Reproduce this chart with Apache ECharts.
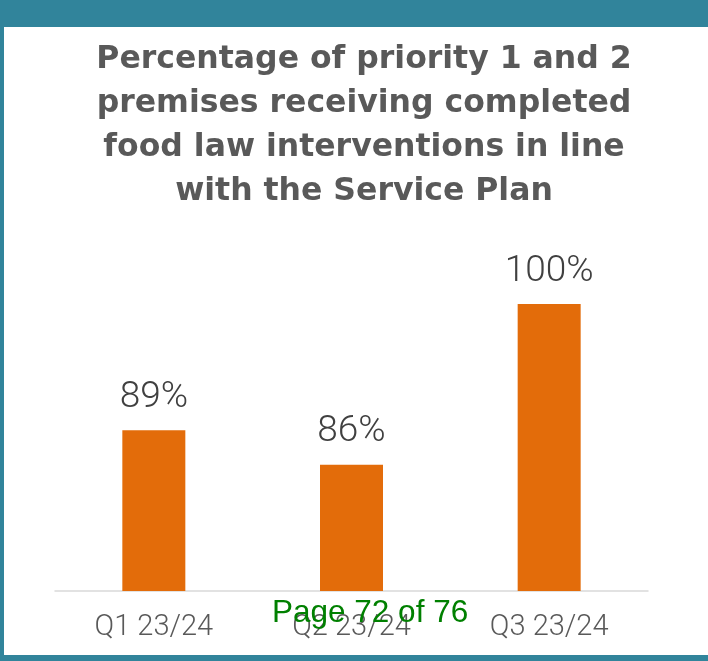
<!DOCTYPE html>
<html>
<head>
<meta charset="utf-8">
<script src="https://cdn.jsdelivr.net/npm/echarts@6/dist/echarts.min.js"></script>
<style>
  html, body { margin: 0; padding: 0; width: 708px; height: 661px; background: #31849B; overflow: hidden; }
  #chart { position: absolute; left: 4px; top: 27px; width: 704px; height: 628px; background: #ffffff; }
</style>
</head>
<body>
<div id="chart"></div>
<script>
const titleLines = [
  'Percentage of priority 1 and 2',
  'premises receiving completed',
  'food law interventions in line',
  'with the Service Plan'
];
const categories = ['Q1 23/24', 'Q2 23/24', 'Q3 23/24'];
const values = [89, 86, 100];
const pageText = 'Page 72 of 76';

const chart = echarts.init(document.getElementById('chart'), null, { renderer: 'canvas' });
chart.setOption({
  backgroundColor: '#ffffff',
  animation: false,
  title: {
    text: titleLines.join('\n'),
    left: 355,
    top: 6,
    textAlign: 'center',
    textStyle: {
      fontFamily: 'DejaVu Sans',
      fontWeight: 'bold',
      fontSize: 31.5,
      lineHeight: 44,
      color: '#595959'
    }
  },
  grid: { left: 51, right: 60, top: 277, bottom: 64, containLabel: false },
  xAxis: {
    type: 'category',
    data: categories,
    axisLine: { show: true, lineStyle: { color: '#D9D9D9', width: 1.5 } },
    axisTick: { show: false },
    axisLabel: {
      margin: 22,
      fontFamily: 'Roboto',
      fontWeight: 300,
      fontSize: 29,
      color: '#595959'
    }
  },
  yAxis: {
    type: 'value',
    min: 75,
    max: 100,
    show: false,
    splitLine: { show: false }
  },
  series: [{
    type: 'bar',
    data: values,
    barWidth: 63,
    itemStyle: { color: '#E36C0A' },
    label: {
      show: true,
      position: 'top',
      distance: 14,
      formatter: '{c}%',
      fontFamily: 'Roboto',
      fontWeight: 300,
      fontSize: 37,
      color: '#404040'
    }
  }],
  graphic: [{
    type: 'text',
    left: 268,
    top: 570,
    z: 100,
    style: {
      text: pageText,
      font: '31.5px "Liberation Sans", Arial, sans-serif',
      fill: '#008000'
    }
  }]
});
</script>
</body>
</html>
